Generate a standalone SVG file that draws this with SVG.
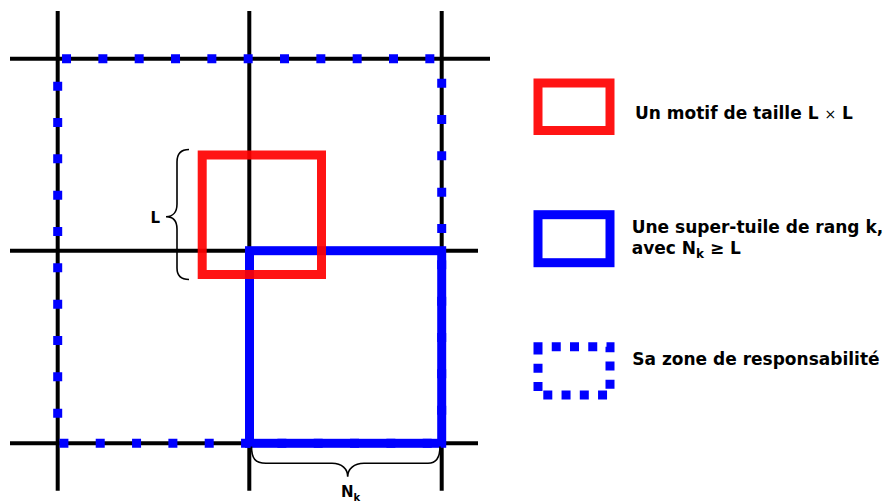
<svg xmlns="http://www.w3.org/2000/svg" width="890" height="501" viewBox="0 0 890 501">
<style>
.grid{stroke:#000;stroke-width:4;fill:none}
.blue{stroke:#0000ff;stroke-width:9;fill:none}
.red{stroke:#ff0000;stroke-width:9;fill:none;stroke-opacity:0.92}
.zone{stroke:#0000ff;stroke-width:9;fill:none;stroke-dasharray:9 27.33;stroke-dashoffset:-10}
.zone2{stroke:#0000ff;stroke-width:9;fill:none;stroke-dasharray:9 9.25;stroke-dashoffset:4.5}
.brace{stroke:#000;stroke-width:1.6;fill:none}
text{font-family:"DejaVu Sans","Liberation Sans",sans-serif;font-weight:bold;fill:#000}
.lg{font-size:17px}
.lbl{font-size:15px}
</style>
<rect width="890" height="501" fill="#fff"/>
<g id="grid">
<line class="grid" x1="57.7" y1="11" x2="57.7" y2="490.7"/>
<line class="grid" x1="249.3" y1="11" x2="249.3" y2="490.7"/>
<line class="grid" x1="441.7" y1="11" x2="441.7" y2="490.7"/>
<line class="grid" x1="10" y1="58.7" x2="490" y2="58.7"/>
<line class="grid" x1="10" y1="250.7" x2="478" y2="250.7"/>
<line class="grid" x1="10" y1="443.3" x2="478" y2="443.3"/>
</g>
<g id="zone">
<path class="zone" d="M441.7,443.3 H57.7 V58.7 H441.7 Z"/>
</g>
<g id="supertile">
<rect class="blue" x="249.5" y="250.7" width="192.2" height="192.6"/>
</g>
<g id="motif">
<rect class="red" x="202.2" y="155" width="119.3" height="119.5"/>
</g>
<g id="connectors">
<path class="brace" d="M189,149.5 C181,149.5 177,153 177,162 L177,204 C177,212 173,216.7 166,216.7 C173,216.7 177,221 177,229 L177,268 C177,276 181,279.5 189,279.5"/>
<path class="brace" d="M251.5,446.5 C251.5,458 255,463.3 266,463.3 L332,463.3 C342,463.3 347.7,469 347.7,476.7 C347.7,469 354,463.3 364,463.3 L428,463.3 C436,463.3 440,458 440,446.5"/>
</g>
<g id="label-L">
<text class="lbl" x="150.5" y="222.7">L</text>
</g>
<g id="label-Nk">
<text class="lbl" x="341" y="497" font-size="14">N<tspan font-size="10" dy="4">k</tspan></text>
</g>
<g id="legend-motif">
<rect class="red" x="538" y="83" width="72" height="47.5"/>
<text class="lg" x="635" y="119.3">Un motif de taille L <tspan font-weight="normal" font-size="14">×</tspan> L</text>
</g>
<g id="legend-supertile">
<rect class="blue" x="538" y="214.7" width="72" height="48"/>
<text class="lg" x="631.7" y="232.7">Une super-tuile de rang k,</text>
<text class="lg" x="631.7" y="254.3">avec N<tspan font-size="12" dy="4">k</tspan><tspan dy="-4"> ≥ L</tspan></text>
</g>
<g id="legend-zone">
<path class="zone2" d="M538,346.7 H610 V395 H538 Z"/>
<text class="lg" x="632.3" y="365">Sa zone de responsabilité</text>
</g>
</svg>
